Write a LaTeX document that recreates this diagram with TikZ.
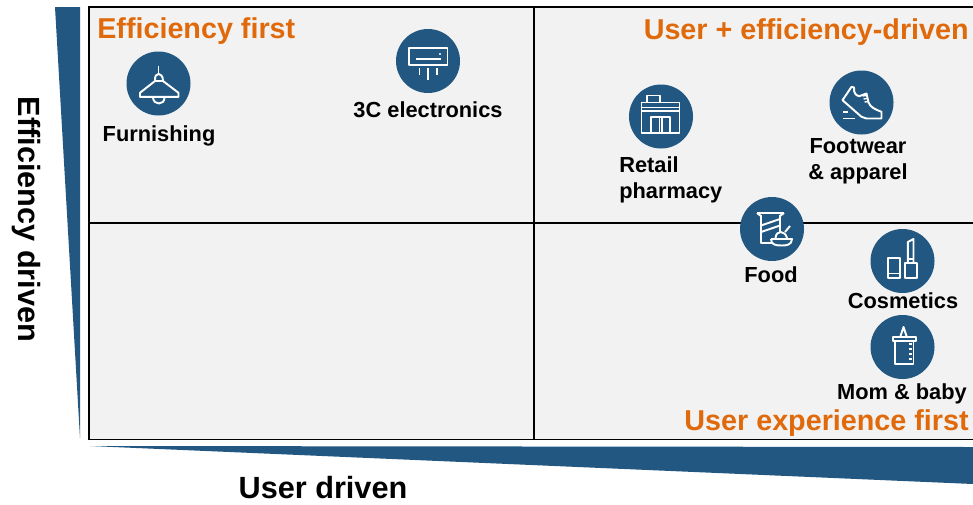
\documentclass[tikz,border=0pt]{standalone}
\usepackage{fontspec}
\setmainfont{Liberation Sans}
\definecolor{navy}{HTML}{215780}
\definecolor{accent}{HTML}{E06A0B}
\definecolor{panel}{HTML}{F2F2F2}
\tikzset{
  x=0.75pt,y=-0.75pt,
  iconbg/.style={circle,fill=navy,draw=none,minimum size=48pt,inner sep=0pt},
  ln/.style={draw=white,line width=1.45pt,line join=round,fill=none},
  thin ln/.style={draw=white,line width=1pt,line join=round,fill=none},
  lbl/.style={font=\bfseries\fontsize{16.35}{19.5}\selectfont,text=black,inner sep=0pt,align=center},
  ttl/.style={font=\bfseries\fontsize{21.55}{25}\selectfont,text=accent,inner sep=0pt},
  axl/.style={font=\bfseries\fontsize{23}{27}\selectfont,text=black,inner sep=0pt},
  lampicon/.pic={
    \draw[ln] (0,-18) -- (0,-10);
    \draw[ln] (-3.5,-2.5) .. controls (-4.5,-12) and (4.5,-12) .. (4.5,-2.5);
    \draw[ln] (-3.5,-2.5) -- (-18.5,9.3) -- (-18.5,13.3) -- (20,13.3) -- (20,9.3) -- (4.5,-2.5) -- cycle;
    \draw[ln] (-5.5,14) .. controls (-5,22) and (6,22) .. (6,14);
  },
  acicon/.pic={
    \draw[ln] (-19,-13) rectangle (19.5,4.3);
    \fill[white] (-12.5,-3.5) rectangle (13,-1);
    \fill[white] (12,-7) circle (0.8pt);
    \draw[thin ln] (-8.5,7) -- (-8.5,13.5);
    \draw[thin ln] (0,7) -- (0,19);
    \draw[thin ln] (9,7) -- (9,13.5);
  },
  shopicon/.pic={
    \draw[ln] (-19.5,-14) rectangle (18.5,16.7);
    \draw[ln] (-13.7,-14) -- (-13.7,-21) -- (-1,-21) -- (-1,-14);
    \draw[thin ln] (-19.5,-9) -- (18.5,-9);
    \draw[thin ln] (-19.5,-5.5) -- (18.5,-5.5);
    \draw[ln] (-10,16) -- (-10,0.7) -- (9,0.7) -- (9,16);
    \draw[thin ln] (-1.5,0.7) -- (-1.5,16);
    \draw[thin ln] (1,0.7) -- (1,16);
  },
  shoeicon/.pic={
    \draw[ln] (-10,-15.7) -- (-19,-2.3) -- (0,14.3) .. controls (2,16) .. (5,16) -- (20,16) -- (20,9.3) .. controls (14,7) and (9,5) .. (7,0) -- (5,-9) -- (-2.3,-6.3) .. controls (-6,-7) and (-8,-10) .. (-7.5,-15) -- cycle;
    \draw[thin ln] (1,-6.5) -- (5.5,-7);
    \draw[thin ln] (2,-3.5) -- (6.5,-4);
    \draw[thin ln] (3,-0.5) -- (7.5,-1);
    \draw[ln] (-18.3,9.3) -- (-13.3,9.3);
    \draw[ln] (-18.3,16) -- (-6.7,16);
  },
  foodicon/.pic={
    \draw[ln] (-15,-16) -- (12,-16);
    \draw[ln] (-15,-16) -- (-11,-13);
    \draw[ln] (12,-16) -- (8,-13);
    \draw[ln] (-11,-14) -- (-11,14) -- (0,14);
    \draw[ln] (8,-14) -- (8,3);
    \draw[ln] (-11,-3.5) -- (8,-10);
    \draw[ln] (-11,3) -- (8,-3.5);
    \draw[ln] (-1,10) -- (20,10) .. controls (20,16) and (14,16.5) .. (10,16.5) .. controls (4,16.5) and (-1,16) .. (-1,10);
    \draw[ln] (3.5,9) .. controls (4,1) and (13,1) .. (15,9);
    \draw[ln] (13,3) -- (18,-3);
  },
  cosmeticsicon/.pic={
    \draw[ln] (-14.7,-3) rectangle (-2.3,17);
    \draw[thin ln] (-14.7,12.7) -- (-2.3,12.7);
    \draw[ln] (2.7,2) rectangle (14.3,17);
    \draw[ln] (5.3,2) -- (5.3,-19) -- (11,-22) -- (11,2);
    \draw[thin ln] (5.3,-2) -- (11,-2);
  },
  bottleicon/.pic={
    \draw[ln] (-9.5,-10) rectangle (13.7,-5.7);
    \draw[ln] (-2.3,-10) -- (1,-20) -- (4.3,-10);
    \draw[ln] (-7.3,-5.7) -- (-7.3,17) -- (11,17) -- (11,-5.7);
    \foreach \yy in {-3,2,7,12}{\draw[ln] (6,\yy) -- (9.5,\yy);}
  }
}
\begin{document}
\begin{tikzpicture}
\useasboundingbox (0,0) rectangle (973,504);
\clip (0,0) rectangle (973,504);
\fill[white] (0,0) rectangle (973,504);
\fill[navy] (55,7) -- (80,7) -- (80,438) -- cycle;
\fill[navy] (90,446) -- (973,447) -- (973,484) -- cycle;
\draw[black,line width=1.1pt,fill=panel] (89,7) rectangle (990,439.5);
\draw[black,line width=1.1pt] (534,7) -- (534,439.5);
\draw[black,line width=1.1pt] (89,223) -- (990,223);
\node[ttl,anchor=west] (t1) at (97,31) {Efficiency first};
\node[ttl,anchor=east] (t2) at (969,32) {User + efficiency-driven};
\node[ttl,anchor=east] (t3) at (969,423) {User experience first};
\node[axl,rotate=-90] (ay) at (26,219.5) {Efficiency driven};
\node[axl] (ax) at (323,487.5) {User driven};
\node[iconbg] (furn) at (158.5,83.5) {};
\node[iconbg] (elec) at (428,61) {};
\node[iconbg] (retail) at (661,116.5) {};
\node[iconbg] (shoe) at (861.5,102.5) {};
\node[iconbg] (food) at (772,229) {};
\node[iconbg] (cosm) at (902.5,261) {};
\node[iconbg] (baby) at (902.5,347) {};
\pic at (furn.center) {lampicon};
\pic at (elec.center) {acicon};
\pic at (retail.center) {shopicon};
\pic at (shoe.center) {shoeicon};
\pic at (food.center) {foodicon};
\pic at (cosm.center) {cosmeticsicon};
\pic at (baby.center) {bottleicon};
\node[lbl] (l1) at (159,136) {Furnishing};
\node[lbl] (l2) at (428,110) {3C electronics};
\node[lbl,anchor=west,align=left] (l3) at (619,179.5) {Retail\\pharmacy};
\node[lbl] (l4) at (858,161.5) {Footwear\\\& apparel};
\node[lbl] (l5) at (771,275) {Food};
\node[lbl] (l6) at (903,301) {Cosmetics};
\node[lbl] (l7) at (902,394) {Mom \& baby};
\end{tikzpicture}
\end{document}
